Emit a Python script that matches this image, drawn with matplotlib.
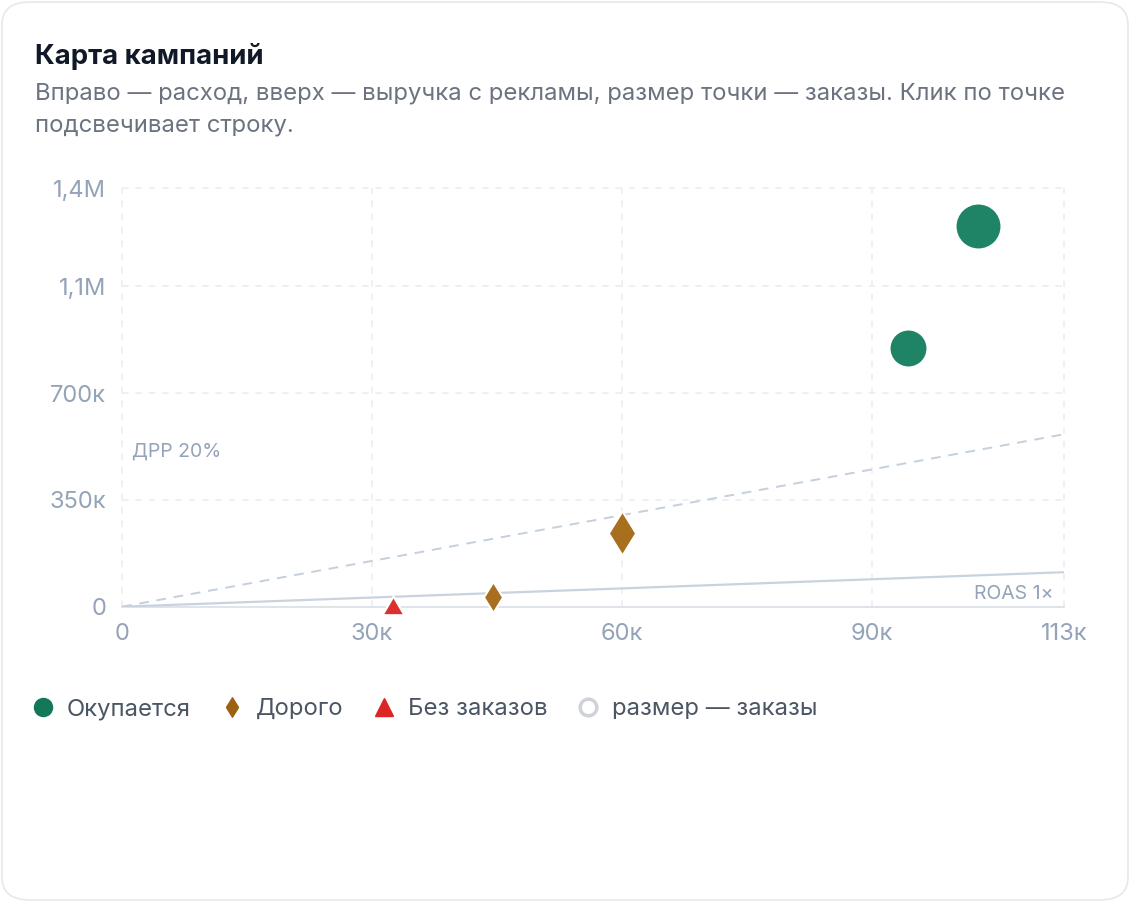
import matplotlib
matplotlib.use("Agg")
import matplotlib.pyplot as plt
from matplotlib.patches import FancyBboxPatch
from matplotlib.lines import Line2D
from matplotlib.path import Path
import numpy as np

plt.rcParams['font.family'] = ['Inter', 'DejaVu Sans']

# campaigns: spend (x), ad revenue (y), orders (size), status
spend = [102700, 94300, 60000, 44500, 32500]
revenue = [1247000, 848000, 241500, 31800, 0]
orders = [64, 36, 25, 6, 0]
status = ['ok', 'ok', 'expensive', 'expensive', 'none']

x_max = 113000
y_max = 1371000
x_ticks = [0, 30000, 60000, 90000, 113000]
y_ticks = [0, 350000, 700000, 1050000, 1371000]

legend_labels = ['Окупается', 'Дорого', 'Без заказов', 'размер — заказы']

colors = {'ok': '#1f8466', 'expensive': '#a86f1f', 'none': '#dc2f2f'}
tall_diamond = Path([(0, 1), (0.62, 0), (0, -1), (-0.62, 0), (0, 1)],
                    [Path.MOVETO, Path.LINETO, Path.LINETO, Path.LINETO, Path.CLOSEPOLY])
triangle = Path([(0, 1), (1, -0.7), (-1, -0.7), (0, 1)],
                [Path.MOVETO, Path.LINETO, Path.LINETO, Path.CLOSEPOLY])
markers = {'ok': 'o', 'expensive': tall_diamond, 'none': triangle}


def fmt_money(v):
    if v == 0:
        return '0'
    if v >= 1000000:
        return f"{v / 1e6:.1f}M".replace('.', ',')
    return f"{round(v / 1000):.0f}к"


W, H = 1130, 902
fig = plt.figure(figsize=(W / 100, H / 100), dpi=100)
fig.patch.set_facecolor('white')

card = FancyBboxPatch((2 / W, 2 / H), (W - 4) / W, (H - 4) / H,
                      boxstyle="round,pad=0,rounding_size=0.025",
                      transform=fig.transFigure, facecolor='white',
                      edgecolor='#e6e8ec', linewidth=1.2, zorder=-10)
fig.patches.append(card)

fig.text(35 / W, 1 - 56 / H, 'Карта кампаний', fontsize=19.8, fontweight='bold',
         color='#111827', va='center')
fig.text(35 / W, 1 - 93 / H,
         'Вправо — расход, вверх — выручка с рекламы, размер точки — заказы. Клик по точке',
         fontsize=17.2, color='#6b7280', va='center')
fig.text(35 / W, 1 - 126 / H, 'подсвечивает строку.', fontsize=17.2, color='#6b7280', va='center')

left, right = 122 / W, 1064 / W
bottom, top = 1 - 606.7 / H, 1 - 188.3 / H
ax = fig.add_axes([left, bottom, right - left, top - bottom])
ax.set_xlim(0, x_max)
ax.set_ylim(0, y_max)
ax.patch.set_alpha(0)
for s in ax.spines.values():
    s.set_visible(False)

# grid
for xv in x_ticks:
    ax.axvline(xv, color='#eceef2', lw=1.2, ls=(0, (4, 4)), zorder=0, clip_on=False)
for yv in y_ticks[1:]:
    ax.axhline(yv, color='#eceef2', lw=1.2, ls=(0, (4, 4)), zorder=0, clip_on=False)
ax.axhline(0, color='#dfe4eb', lw=1.5, zorder=1, clip_on=False)

# reference lines
xs = np.array([0, x_max])
ax.plot(xs, xs * 5, color='#c3d0dd', lw=1.4, ls=(0, (5, 4)), zorder=1)
ax.plot(xs, xs * 1, color='#c8d3df', lw=1.6, zorder=1)
ax.text(1200, 0.37 * y_max, 'ДРР 20%', fontsize=14, color='#94a3b8',
        va='center', ha='left')
ax.text(x_max - 1200, 0.03 * y_max, 'ROAS 1×', fontsize=14, color='#94a3b8',
        va='center', ha='right')

# points
for xv, yv, n, st in zip(spend, revenue, orders, status):
    d_px = 14 + 4 * np.sqrt(n)
    if st == 'expensive':
        d_px *= 1.3
    if st == 'none':
        d_px = 22
    d_pt = d_px * 0.72
    ax.scatter([xv], [yv], s=d_pt ** 2, marker=markers[st], color=colors[st],
               edgecolors='white', linewidths=1.5, zorder=3, clip_on=False)

ax.set_xticks(x_ticks)
ax.set_xticklabels([fmt_money(v) for v in x_ticks])
ax.set_yticks(y_ticks)
ax.set_yticklabels([fmt_money(v) for v in y_ticks])
ax.tick_params(length=0, labelsize=17, colors='#94a3b8', pad=12)
ax.tick_params(axis='y', pad=11.5)

handles = [
    Line2D([], [], ls='', marker='o', ms=13, color='#13775a'),
    Line2D([], [], ls='', marker=tall_diamond, ms=14, color='#9c6210'),
    Line2D([], [], ls='', marker='^', ms=13, color='#dc2626'),
    Line2D([], [], ls='', marker='o', ms=12, mfc='white', mec='#cfd3d9', mew=2.5),
]
fig.legend(handles, legend_labels, loc='center left',
           bbox_to_anchor=(12 / W, 1 - 709 / H), ncol=4, frameon=False,
           fontsize=17.2, labelcolor='#4b5563', handlelength=0.8,
           handletextpad=0.6, columnspacing=1.3)

fig.savefig('out.png', dpi=100, facecolor='white')
